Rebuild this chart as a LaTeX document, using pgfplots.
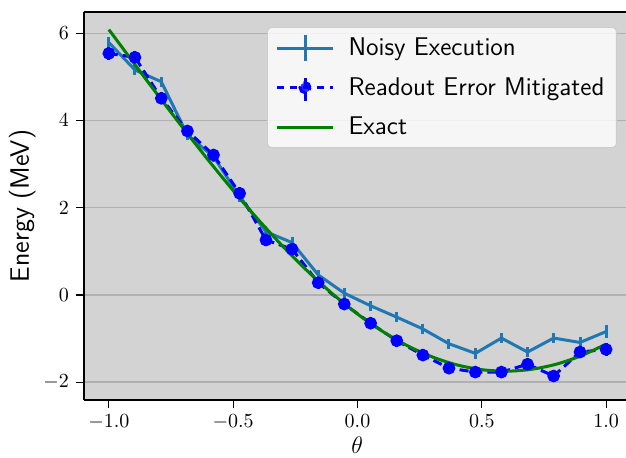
\documentclass[border=0pt]{standalone}
\usepackage{pgfplots}
\pgfplotsset{compat=1.18}

\definecolor{tabblue}{HTML}{1F77B4}
\definecolor{mplgreen}{HTML}{008000}
\definecolor{bggray}{HTML}{D3D3D3}
\definecolor{gridgray}{HTML}{B0B0B0}
\definecolor{legedge}{HTML}{CCCCCC}

\begin{document}
\begin{tikzpicture}
\begin{axis}[
    name=ax,
    scale only axis,
    width=271pt, height=194pt,
    xmin=-1.1, xmax=1.08,
    ymin=-2.41, ymax=6.49,
    axis x line=box, axis y line=left,
    y axis line style={-},
    axis line style={line width=0.7pt},
    axis background/.style={fill=bggray},
    xtick={-1,-0.5,0,0.5,1},
    ytick={-2,0,2,4,6},
    xticklabel style={/pgf/number format/.cd, fixed, fixed zerofill, precision=1},
    tick align=outside, xtick pos=bottom, ytick pos=left,
    major tick length=4pt,
    tick style={black, line width=0.6pt},
    ticklabel style={font=\fontsize{10}{12}\selectfont},
    ymajorgrids,
    major grid style={gridgray, line width=0.7pt},
    xlabel={$\theta$},
    ylabel={\sffamily Energy (MeV)},
    xlabel style={font=\fontsize{12.5}{14}\selectfont,
        at={(axis description cs:0.504,-0.116)}, anchor=center},
    ylabel style={font=\fontsize{13.3}{15}\selectfont,
        at={(axis description cs:-0.114,0.5)}, anchor=center},
    legend style={at={(rel axis cs:0.983,0.961)}, anchor=north east,
        fill=white, fill opacity=0.8, text opacity=1, draw=legedge,
        rounded corners=2pt, font=\sffamily\fontsize{12.8}{14}\selectfont,
        row sep=5.3pt, inner xsep=4pt, inner ysep=3pt,
        /tikz/every odd column/.append style={column sep=5pt}},
    legend cell align=left,
]
% noisy execution
\addplot[tabblue, line width=1.5pt, mark=none,
    legend image code/.code={
        \draw[tabblue, line width=1.5pt] (0pt,0pt) -- (28pt,0pt);
        \draw[tabblue, line width=1.5pt] (14pt,-6.5pt) -- (14pt,6.5pt);},
    error bars/.cd, y dir=both, y explicit, error mark=none,
    error bar style={tabblue, line width=1.5pt}]
    table[x=x, y=y, y error=e] {
x y e
-1.000 5.79 0.12
-0.895 5.16 0.12
-0.789 4.89 0.12
-0.684 3.67 0.12
-0.579 3.17 0.12
-0.474 2.26 0.12
-0.368 1.45 0.12
-0.263 1.20 0.12
-0.158 0.46 0.12
-0.053 0.04 0.12
0.053 -0.25 0.12
0.158 -0.51 0.12
0.263 -0.78 0.12
0.368 -1.12 0.12
0.474 -1.34 0.12
0.579 -0.99 0.12
0.684 -1.31 0.12
0.789 -0.99 0.12
0.895 -1.09 0.12
1.000 -0.84 0.15
};
\addlegendentry{Noisy Execution}
% readout error mitigated
\addplot[blue, line width=1.5pt, dash pattern=on 4.5pt off 2.5pt,
    mark=*, mark size=2.4pt, mark options={solid, fill=blue, draw=none},
    legend image code/.code={
        \draw[blue, line width=1.5pt, dash pattern=on 3.6pt off 3pt] (0pt,0pt) -- (28pt,0pt);
        \draw[blue, line width=1.5pt] (14pt,-6.5pt) -- (14pt,6.5pt);
        \fill[blue] (14pt,0pt) circle (2.5pt);},
    error bars/.cd, y dir=both, y explicit, error mark=none,
    error bar style={blue, solid, line width=1.5pt}]
    table[x=x, y=y, y error=e] {
x y e
-1.000 5.54 0.14
-0.895 5.45 0.14
-0.789 4.51 0.14
-0.684 3.76 0.14
-0.579 3.21 0.14
-0.474 2.33 0.14
-0.368 1.26 0.14
-0.263 1.05 0.14
-0.158 0.28 0.14
-0.053 -0.21 0.14
0.053 -0.65 0.14
0.158 -1.05 0.14
0.263 -1.38 0.14
0.368 -1.68 0.14
0.474 -1.77 0.14
0.579 -1.77 0.14
0.684 -1.59 0.14
0.789 -1.86 0.14
0.895 -1.31 0.14
1.000 -1.25 0.14
};
\addlegendentry{Readout Error Mitigated}
% exact
\addplot[mplgreen, line width=1.5pt, smooth, mark=none,
    legend image code/.code={
        \draw[mplgreen, line width=1.5pt] (0pt,0pt) -- (28pt,0pt);}]
    coordinates {
(-1.0,6.087) (-0.9,5.321) (-0.8,4.562) (-0.7,3.817) (-0.6,3.092)
(-0.5,2.395) (-0.4,1.733) (-0.3,1.113) (-0.2,0.541) (-0.1,0.023)
(0.0,-0.437) (0.1,-0.833) (0.2,-1.162) (0.3,-1.420) (0.4,-1.605)
(0.5,-1.715) (0.6,-1.749) (0.7,-1.706) (0.8,-1.588) (0.9,-1.394)
(1.0,-1.128)
};
\addlegendentry{Exact}
\end{axis}
\pgfresetboundingbox
\path ([xshift=-42pt,yshift=-29pt]ax.south west) rectangle ([yshift=6pt]ax.north east);
\end{tikzpicture}
\end{document}
